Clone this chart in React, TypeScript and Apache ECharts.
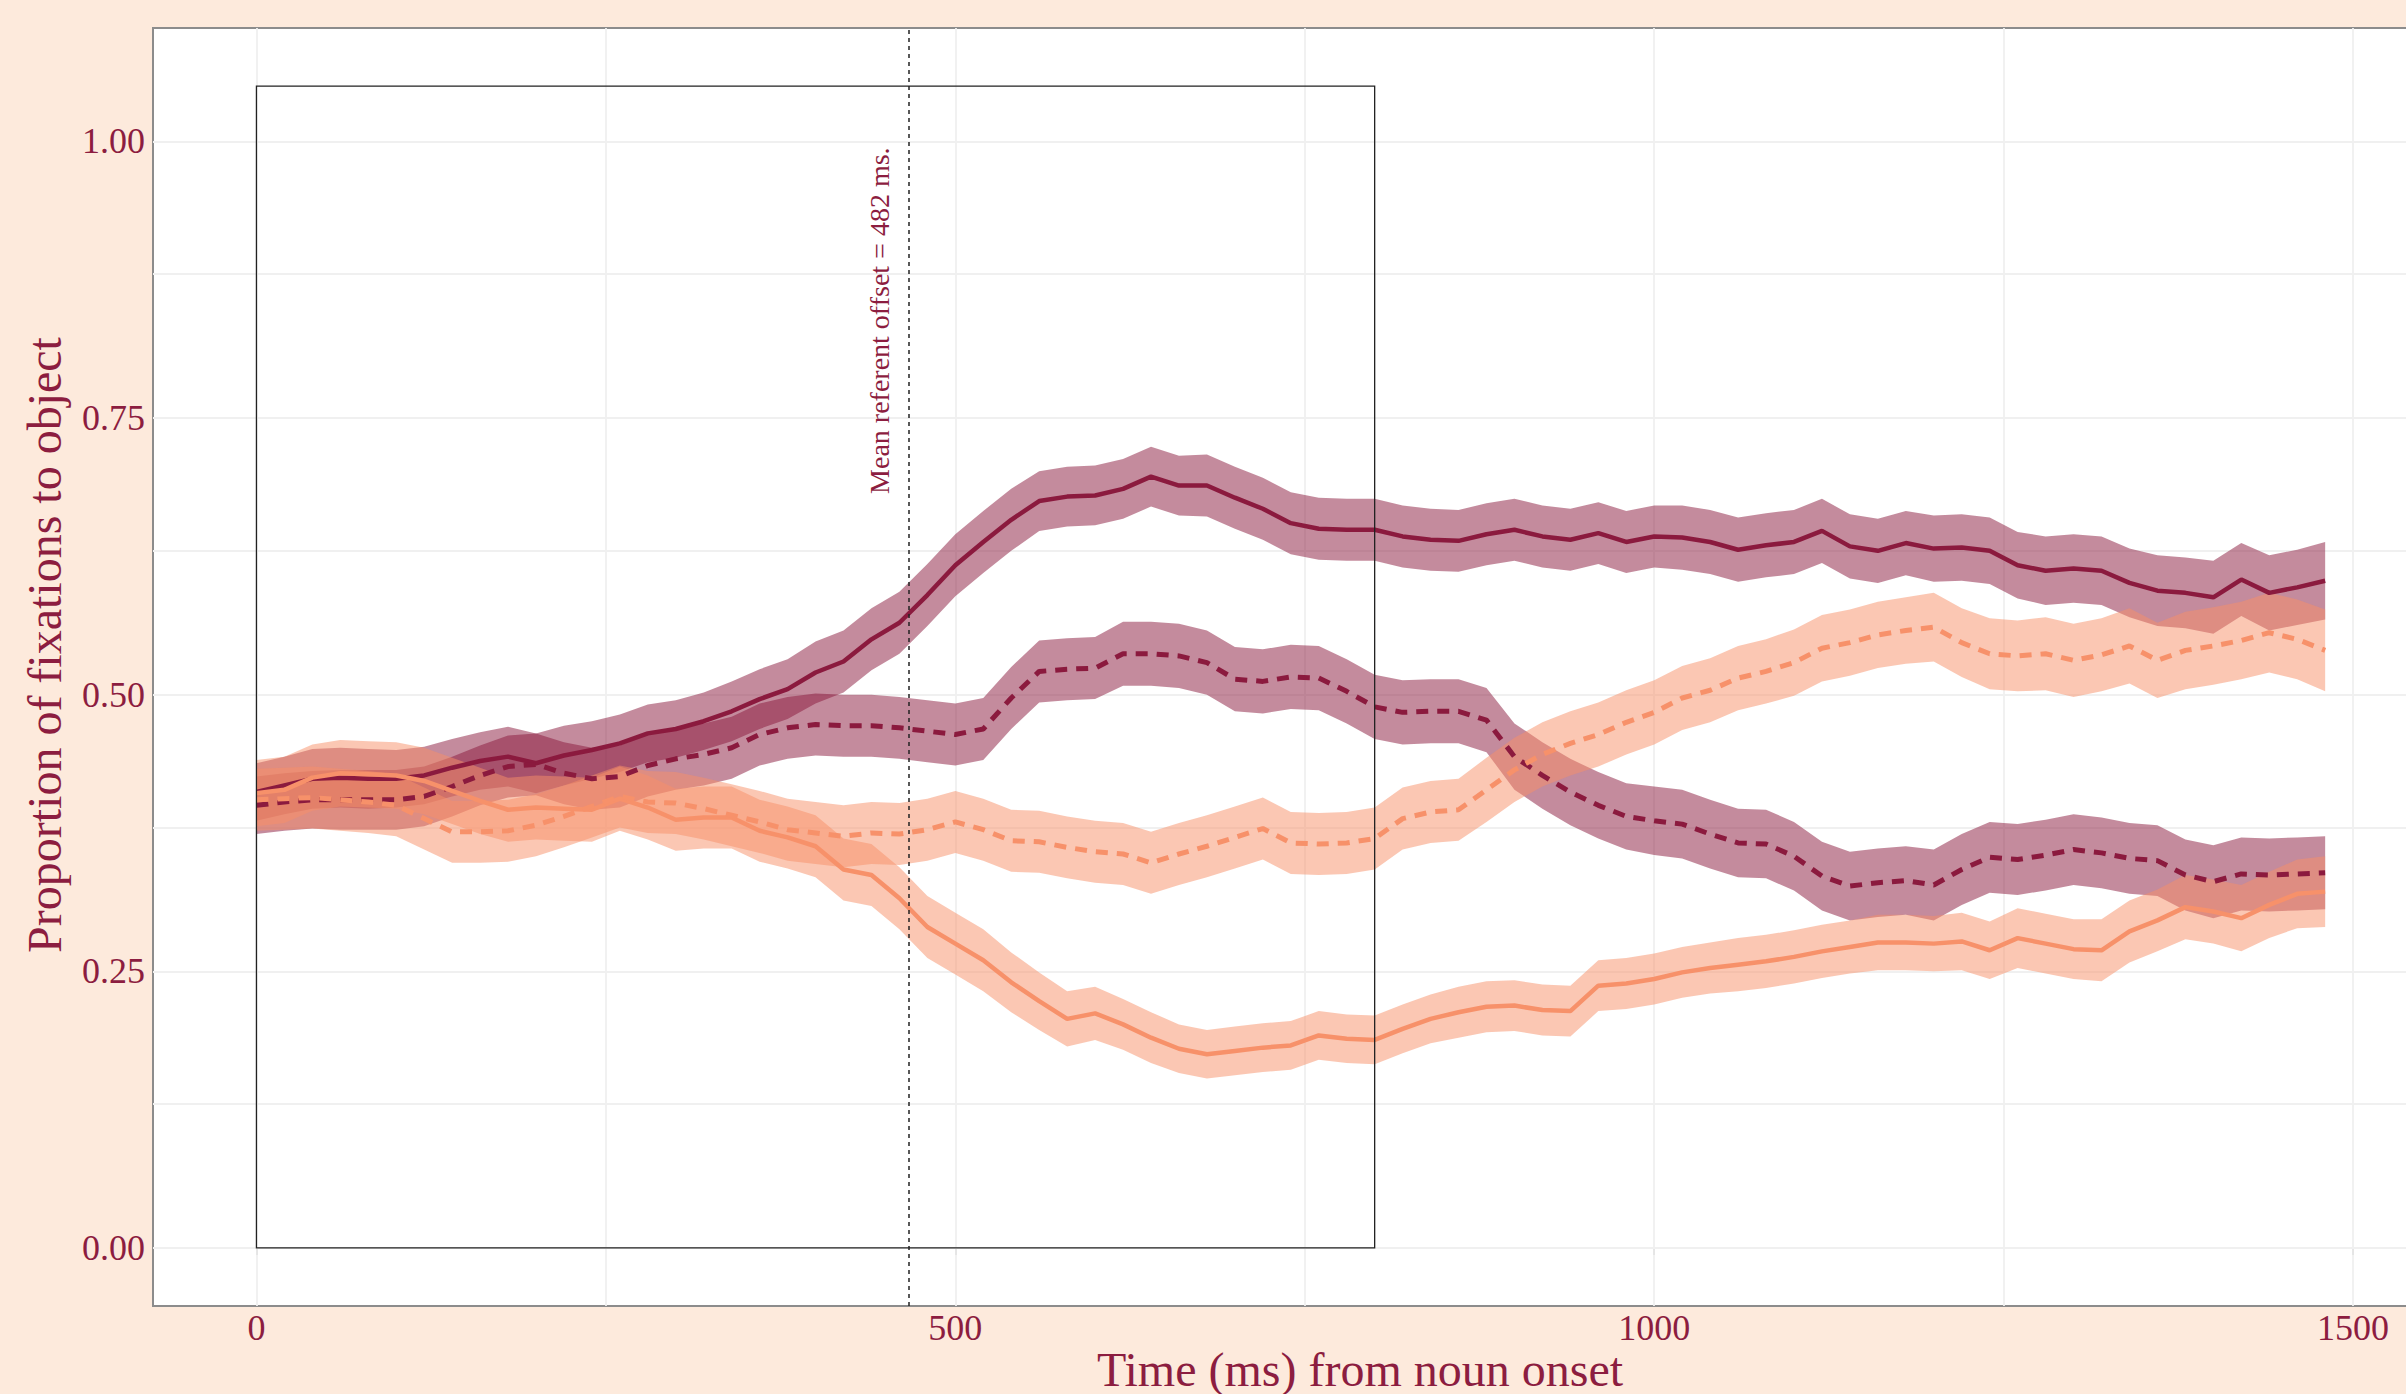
import React, { useEffect, useRef } from "react";
import * as echarts from "echarts";

// Time points (ms from noun onset)
const TIME = [
  0, 20, 40, 60, 80, 100, 120, 140, 160, 180, 200, 220, 240, 260, 280,
  300, 320, 340, 360, 380, 400, 420, 440, 460, 480, 500, 520, 540, 560, 580,
  600, 620, 640, 660, 680, 700, 720, 740, 760, 780, 800, 820, 840, 860, 880,
  900, 920, 940, 960, 980, 1000, 1020, 1040, 1060, 1080, 1100, 1120, 1140, 1160, 1180,
  1200, 1220, 1240, 1260, 1280, 1300, 1320, 1340, 1360, 1380, 1400, 1420, 1440, 1460, 1480,
];

// Dark solid
const DARK_SOLID = [
  0.412, 0.418, 0.424, 0.425, 0.424, 0.424, 0.427, 0.434, 0.44, 0.444, 0.438, 0.445, 0.45, 0.456, 0.465,
  0.469, 0.476, 0.485, 0.496, 0.505, 0.52, 0.53, 0.55, 0.565, 0.59, 0.617, 0.638, 0.658, 0.675, 0.679,
  0.68, 0.686, 0.697, 0.689, 0.689, 0.678, 0.668, 0.655, 0.65, 0.649, 0.649, 0.643, 0.64, 0.639, 0.645,
  0.649, 0.643, 0.64, 0.646, 0.638, 0.643, 0.642, 0.638, 0.631, 0.635, 0.638, 0.648, 0.634, 0.63, 0.637,
  0.632, 0.633, 0.63, 0.617, 0.612, 0.614, 0.612, 0.601, 0.594, 0.592, 0.588, 0.604, 0.592, 0.597, 0.603,
];
const DARK_SOLID_SE = [
  0.026, 0.026, 0.027, 0.027, 0.027, 0.026, 0.026, 0.026, 0.026, 0.027, 0.027, 0.027, 0.026, 0.026, 0.026,
  0.026, 0.026, 0.027, 0.027, 0.027, 0.028, 0.028, 0.028, 0.028, 0.028, 0.028, 0.028, 0.028, 0.027, 0.027,
  0.027, 0.027, 0.027, 0.027, 0.028, 0.028, 0.028, 0.028, 0.028, 0.028, 0.028, 0.028, 0.028, 0.028, 0.028,
  0.028, 0.028, 0.028, 0.028, 0.028, 0.028, 0.029, 0.029, 0.029, 0.029, 0.029, 0.029, 0.029, 0.029, 0.029,
  0.03, 0.03, 0.03, 0.03, 0.031, 0.031, 0.031, 0.031, 0.032, 0.032, 0.033, 0.033, 0.034, 0.034, 0.035,
];

// Dark dashed
const DARK_DASHED = [
  0.4, 0.403, 0.405, 0.405, 0.405, 0.405, 0.408, 0.417, 0.427, 0.435, 0.437, 0.429, 0.424, 0.426, 0.436,
  0.442, 0.446, 0.452, 0.464, 0.47, 0.473, 0.472, 0.472, 0.47, 0.467, 0.464, 0.469, 0.497, 0.521, 0.523,
  0.524, 0.537, 0.537, 0.535, 0.529, 0.514, 0.512, 0.516, 0.515, 0.503, 0.489, 0.484, 0.485, 0.485, 0.477,
  0.444, 0.427, 0.412, 0.4, 0.39, 0.386, 0.383, 0.374, 0.366, 0.365, 0.354, 0.336, 0.327, 0.33, 0.332,
  0.328, 0.342, 0.353, 0.351, 0.355, 0.36, 0.357, 0.352, 0.35, 0.337, 0.331, 0.338, 0.337, 0.338, 0.339,
];
const DARK_DASHED_SE = [
  0.026, 0.026, 0.026, 0.027, 0.027, 0.027, 0.027, 0.027, 0.027, 0.028, 0.028, 0.028, 0.028, 0.028, 0.028,
  0.028, 0.028, 0.028, 0.028, 0.028, 0.028, 0.028, 0.028, 0.028, 0.028, 0.028, 0.028, 0.028, 0.028, 0.028,
  0.028, 0.029, 0.029, 0.029, 0.029, 0.029, 0.029, 0.029, 0.029, 0.029, 0.029, 0.029, 0.029, 0.029, 0.029,
  0.03, 0.03, 0.03, 0.03, 0.03, 0.031, 0.031, 0.031, 0.031, 0.031, 0.031, 0.031, 0.031, 0.031, 0.031,
  0.032, 0.032, 0.032, 0.032, 0.032, 0.032, 0.032, 0.032, 0.032, 0.032, 0.033, 0.033, 0.033, 0.033, 0.033,
];

// Light solid
const LIGHT_SOLID = [
  0.411, 0.414, 0.425, 0.429, 0.428, 0.427, 0.422, 0.413, 0.404, 0.396, 0.398, 0.397, 0.396, 0.406, 0.398,
  0.387, 0.389, 0.389, 0.377, 0.371, 0.363, 0.342, 0.337, 0.316, 0.29, 0.275, 0.26, 0.24, 0.223, 0.207,
  0.212, 0.202, 0.19, 0.18, 0.175, 0.178, 0.181, 0.183, 0.192, 0.189, 0.188, 0.198, 0.207, 0.213, 0.218,
  0.219, 0.215, 0.214, 0.237, 0.239, 0.243, 0.249, 0.253, 0.256, 0.259, 0.263, 0.268, 0.272, 0.276, 0.276,
  0.275, 0.277, 0.269, 0.28, 0.275, 0.27, 0.269, 0.286, 0.296, 0.308, 0.304, 0.298, 0.31, 0.32, 0.322,
];
const LIGHT_SOLID_SE = [
  0.03, 0.03, 0.03, 0.03, 0.03, 0.03, 0.03, 0.03, 0.03, 0.029, 0.029, 0.029, 0.029, 0.029, 0.029,
  0.028, 0.028, 0.028, 0.028, 0.028, 0.028, 0.028, 0.028, 0.028, 0.028, 0.028, 0.028, 0.027, 0.026, 0.025,
  0.024, 0.023, 0.023, 0.022, 0.022, 0.022, 0.022, 0.022, 0.022, 0.022, 0.022, 0.022, 0.022, 0.023, 0.023,
  0.023, 0.023, 0.023, 0.023, 0.023, 0.023, 0.023, 0.023, 0.024, 0.024, 0.024, 0.024, 0.024, 0.025, 0.025,
  0.025, 0.026, 0.026, 0.027, 0.027, 0.027, 0.028, 0.028, 0.028, 0.029, 0.029, 0.03, 0.03, 0.031, 0.032,
];

// Light dashed
const LIGHT_DASHED = [
  0.405, 0.406, 0.407, 0.405, 0.403, 0.4, 0.388, 0.376, 0.376, 0.377, 0.382, 0.39, 0.399, 0.408, 0.403,
  0.402, 0.397, 0.391, 0.385, 0.378, 0.375, 0.372, 0.375, 0.374, 0.378, 0.385, 0.378, 0.368, 0.367, 0.362,
  0.358, 0.356, 0.348, 0.356, 0.363, 0.371, 0.379, 0.366, 0.365, 0.366, 0.37, 0.388, 0.394, 0.396, 0.414,
  0.432, 0.446, 0.456, 0.464, 0.475, 0.484, 0.497, 0.504, 0.515, 0.521, 0.529, 0.542, 0.547, 0.554, 0.558,
  0.561, 0.547, 0.537, 0.535, 0.537, 0.531, 0.536, 0.544, 0.531, 0.54, 0.544, 0.549, 0.556, 0.55, 0.54,
];
const LIGHT_DASHED_SE = [
  0.028, 0.028, 0.028, 0.028, 0.028, 0.028, 0.028, 0.028, 0.028, 0.028, 0.028, 0.028, 0.028, 0.028, 0.028,
  0.028, 0.028, 0.028, 0.028, 0.028, 0.028, 0.028, 0.028, 0.028, 0.028, 0.028, 0.028, 0.028, 0.028, 0.028,
  0.028, 0.028, 0.028, 0.028, 0.028, 0.028, 0.028, 0.028, 0.028, 0.028, 0.028, 0.028, 0.028, 0.028, 0.029,
  0.029, 0.029, 0.029, 0.029, 0.029, 0.029, 0.029, 0.029, 0.029, 0.029, 0.03, 0.03, 0.03, 0.03, 0.03,
  0.031, 0.031, 0.032, 0.032, 0.033, 0.033, 0.033, 0.034, 0.034, 0.035, 0.035, 0.035, 0.036, 0.036, 0.037,
];

const X_TICKS = [0, 500, 1000, 1500];
const Y_TICKS = [0, 0.25, 0.5, 0.75, 1.0];
const X_GRIDLINES = [0, 250, 500, 750, 1000, 1250, 1500];
const Y_GRIDLINES = [0, 0.125, 0.25, 0.375, 0.5, 0.625, 0.75, 0.875, 1.0];
const OFFSET_MS = 467;
const BOX_X = [0, 800];
const BOX_Y = [0, 1.05];
const ANNOTATION = "Mean referent offset = 482 ms.";
const ANNOT_POS = [446, 0.838];
const X_TITLE = "Time (ms) from noun onset";
const Y_TITLE = "Proportion of fixations to object";

const DARK = "#8B1A3E";
const LIGHT = "#F7916A";
const DARK_FILL = "rgba(137,24,60,0.5)";
const LIGHT_FILL = "rgba(248,143,104,0.5)";
const TEXT = "#8C1D40";
const BG = "#FDEADC";
const FONT = "Liberation Serif";

function ribbon(mean: number[], se: number[], fill: string) {
  return {
    type: "custom",
    coordinateSystem: "cartesian2d",
    silent: true,
    z: 2,
    data: [[TIME[0], mean[0]]],
    encode: { x: 0, y: 1 },
    renderItem: (_p: any, api: any) => {
      const upper = TIME.map((t, i) => api.coord([t, mean[i] + se[i]]));
      const lower = TIME.map((t, i) => api.coord([t, mean[i] - se[i]])).reverse();
      return {
        type: "polygon",
        shape: { points: upper.concat(lower) },
        style: { fill, stroke: "none" },
      };
    },
  };
}

function line(mean: number[], color: string, dashed: boolean) {
  return {
    type: "line",
    silent: true,
    z: 3,
    data: TIME.map((t, i) => [t, mean[i]]),
    showSymbol: false,
    symbol: "none",
    lineStyle: { color, width: dashed ? 5 : 4.5, type: dashed ? [12, 9] : "solid" },
  };
}

export default function App() {
  const ref = useRef<HTMLDivElement>(null);
  useEffect(() => {
    if (!ref.current) return;
    const chart = echarts.init(ref.current, null, { renderer: "svg" });
    const option: any = {
      animation: false,
      backgroundColor: BG,
      textStyle: { fontFamily: FONT },
      grid: {
        left: 153,
        top: 28,
        width: 2270,
        height: 1278,
        show: true,
        backgroundColor: "#FFFFFF",
        borderColor: "#8C8C8C",
        borderWidth: 2,
      },
      xAxis: {
        type: "value",
        min: -74,
        max: 1550,
        axisLine: { show: false },
        splitLine: { show: false },
        axisTick: {
          show: true,
          customValues: X_TICKS,
          length: 7,
          lineStyle: { color: "#666", width: 1.5 },
        },
        axisLabel: {
          customValues: X_TICKS,
          color: TEXT,
          fontFamily: FONT,
          fontSize: 36,
          margin: 4,
          formatter: (v: number) => String(v),
        },
      },
      yAxis: {
        type: "value",
        min: -0.0525,
        max: 1.1025,
        axisLine: { show: false },
        splitLine: { show: false },
        axisTick: {
          show: true,
          customValues: Y_TICKS,
          length: 7,
          lineStyle: { color: "#666", width: 1.5 },
        },
        axisLabel: {
          customValues: Y_TICKS,
          color: TEXT,
          fontFamily: FONT,
          fontSize: 36,
          margin: 8,
          formatter: (v: number) => v.toFixed(2),
        },
      },
      series: [
        {
          type: "line",
          silent: true,
          z: 1,
          data: [[0, 0]],
          symbol: "none",
          lineStyle: { opacity: 0 },
          markLine: {
            z: 1,
            silent: true,
            symbol: "none",
            label: { show: false },
            lineStyle: { color: "#F0F0F0", width: 1.8, type: "solid" },
            data: [
              ...Y_GRIDLINES.map((v) => ({ yAxis: v })),
              ...X_GRIDLINES.map((v) => ({ xAxis: v })),
            ],
          },
        },
        ribbon(DARK_SOLID, DARK_SOLID_SE, DARK_FILL),
        ribbon(DARK_DASHED, DARK_DASHED_SE, DARK_FILL),
        ribbon(LIGHT_SOLID, LIGHT_SOLID_SE, LIGHT_FILL),
        ribbon(LIGHT_DASHED, LIGHT_DASHED_SE, LIGHT_FILL),
        line(DARK_SOLID, DARK, false),
        line(DARK_DASHED, DARK, true),
        line(LIGHT_SOLID, LIGHT, false),
        line(LIGHT_DASHED, LIGHT, true),
        {
          type: "line",
          silent: true,
          z: 10,
          data: [[0, 0]],
          symbol: "none",
          lineStyle: { opacity: 0 },
          markArea: {
            z: 10,
            silent: true,
            itemStyle: { color: "rgba(0,0,0,0)", borderColor: "#222", borderWidth: 1.3 },
            label: { show: false },
            data: [[{ coord: [BOX_X[0], BOX_Y[0]] }, { coord: [BOX_X[1], BOX_Y[1]] }]],
          },
          markLine: {
            z: 10,
            silent: true,
            symbol: "none",
            label: { show: false },
            lineStyle: { color: "#222", width: 1.5, type: [4, 4] },
            data: [{ xAxis: OFFSET_MS }],
          },
        },
      ],
    };
    chart.setOption(option);
    const p = chart.convertToPixel({ gridIndex: 0 }, ANNOT_POS) as number[];
    chart.setOption({
      graphic: [
        {
          type: "text",
          x: p[0],
          y: p[1],
          rotation: Math.PI / 2,
          silent: true,
          z: 20,
          style: {
            text: ANNOTATION,
            fill: TEXT,
            fontFamily: FONT,
            fontSize: 28,
            align: "center",
            verticalAlign: "middle",
          },
        },
        {
          type: "text",
          x: 1360,
          y: 1369,
          silent: true,
          style: {
            text: X_TITLE,
            fill: TEXT,
            fontFamily: FONT,
            fontSize: 48,
            align: "center",
            verticalAlign: "middle",
          },
        },
        {
          type: "text",
          x: 44,
          y: 645,
          rotation: Math.PI / 2,
          silent: true,
          style: {
            text: Y_TITLE,
            fill: TEXT,
            fontFamily: FONT,
            fontSize: 48,
            align: "center",
            verticalAlign: "middle",
          },
        },
      ],
    });
    return () => chart.dispose();
  }, []);
  return (
    <div
      ref={ref}
      style={{ position: "fixed", left: 0, top: 0, width: 2423, height: 1394, background: BG }}
    />
  );
}
